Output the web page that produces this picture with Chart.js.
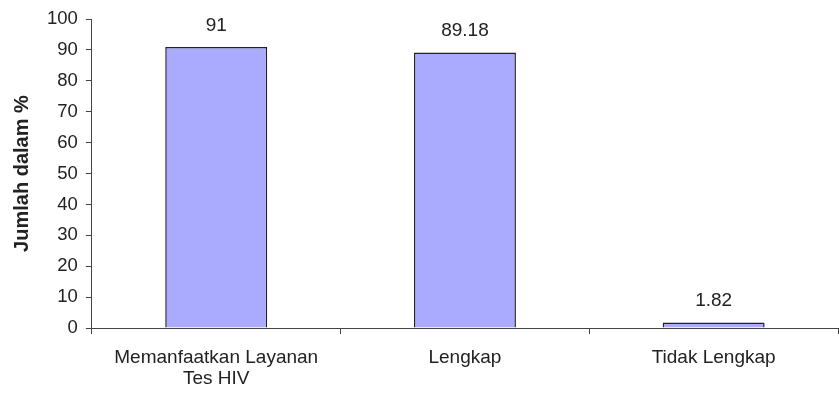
<!DOCTYPE html>
<html>
<head>
<meta charset="utf-8">
<script src="https://cdn.jsdelivr.net/npm/chart.js@4.4.0/dist/chart.umd.min.js"></script>
<style>
  html, body { margin: 0; padding: 0; background: #fff; }
  #wrap { width: 839px; height: 394px; }
</style>
</head>
<body>
<div id="wrap"><canvas id="chart" width="839" height="394"></canvas></div>
<script>
// chart data
const categories = [['Memanfaatkan Layanan', 'Tes HIV'], 'Lengkap', 'Tidak Lengkap'];
const values = [91, 89.18, 1.82];
const valueLabels = ['91', '89.18', '1.82'];
const yTicks = [0, 10, 20, 30, 40, 50, 60, 70, 80, 90, 100];

const FONT = "'Liberation Sans', Arial, sans-serif";

// draws the value above each bar
const barValues = {
    id: 'barValues',
    afterDatasetsDraw(chart) {
        const ctx = chart.ctx;
        const meta = chart.getDatasetMeta(0);
        ctx.save();
        ctx.font = '19px ' + FONT;
        ctx.fillStyle = '#222';
        ctx.textAlign = 'center';
        ctx.textBaseline = 'bottom';
        meta.data.forEach((bar, i) => {
            ctx.fillText(valueLabels[i], bar.x, bar.y - 12);
        });
        ctx.restore();
    }
};

const ctx = document.getElementById('chart').getContext('2d');
const chart = new Chart(ctx, {
    type: 'bar',
    data: {
        labels: categories,
        datasets: [{
            data: values,
            backgroundColor: '#AAAAFF',
            borderColor: '#222',
            borderWidth: 1.5,
            barPercentage: 0.41,
            categoryPercentage: 1
        }]
    },
    options: {
        responsive: false,
        animation: false,
        layout: { padding: { top: 18, right: 1, left: 10, bottom: 0 } },
        plugins: {
            legend: { display: false },
            tooltip: { enabled: false }
        },
        scales: {
            x: {
                afterFit(axis) {
                    axis.height = 66;
                },
                grid: {
                    offset: true,
                    drawOnChartArea: false,
                    drawTicks: true,
                    tickLength: 6,
                    color: '#444'
                },
                border: { color: '#444', width: 1 },
                ticks: {
                    color: '#222',
                    font: { family: FONT, size: 19, lineHeight: 1.12 },
                    maxRotation: 0,
                    padding: 13
                }
            },
            y: {
                min: 0,
                max: 100,
                afterBuildTicks(axis) {
                    axis.ticks = yTicks.map(v => ({ value: v }));
                },
                grid: {
                    drawOnChartArea: false,
                    drawTicks: true,
                    tickLength: 6,
                    color: '#444'
                },
                border: { color: '#444', width: 1 },
                ticks: {
                    color: '#222',
                    font: { family: FONT, size: 18.5 },
                    padding: 8
                },
                title: {
                    display: true,
                    text: 'Jumlah dalam %',
                    color: '#222',
                    font: { family: FONT, size: 20, weight: 'bold' },
                    padding: { top: 0, bottom: 5 }
                }
            }
        }
    },
    plugins: [barValues]
});
</script>
</body>
</html>
